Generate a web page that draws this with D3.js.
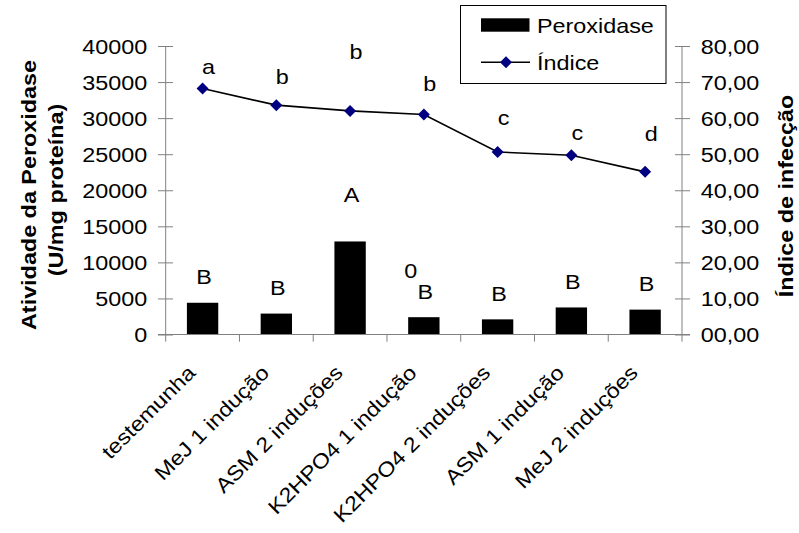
<!DOCTYPE html>
<html>
<head>
<meta charset="utf-8">
<script src="https://cdn.jsdelivr.net/npm/d3@7"></script>
<style>
  html, body { margin: 0; padding: 0; background: #fff; }
  svg { display: block; }
  text { font-family: "Liberation Sans", Arial, Helvetica, sans-serif; fill: #000; }
</style>
</head>
<body>
<svg id="chart" width="799" height="533"></svg>
<script>
// Tratamentos (eixo X)
const categories = [
  "testemunha",
  "MeJ 1 indução",
  "ASM 2 induções",
  "K2HPO4 1 indução",
  "K2HPO4 2 induções",
  "ASM 1 indução",
  "MeJ 2 induções"
];

// Atividade da peroxidase (U/mg proteína) - barras
const peroxidase = [4400, 2900, 12900, 2400, 2100, 3750, 3450];

// Índice de infecção - linha
const indice = [68.2, 63.6, 62.0, 61.0, 50.6, 49.7, 45.1];

// Letras de significância
const peroxidaseLetters = ["B", "B", "A", "B", "B", "B", "B"];
const indiceLetters = ["a", "b", "b", "b", "c", "c", "d"];

// Altura (em unidades de cada eixo) onde cada letra é escrita
const peroxidaseLetterLevel = [7000, 5530, 18330, 4920, 4600, 6310, 6090];
const indiceLetterLevel = [72.1, 69.4, 76.3, 67.6, 58.0, 53.8, 53.7];

// Ticks dos eixos
const leftTicks = [0, 5000, 10000, 15000, 20000, 25000, 30000, 35000, 40000];
const rightTicks = [0, 10, 20, 30, 40, 50, 60, 70, 80];
const rightTickLabels = ["00,00", "10,00", "20,00", "30,00", "40,00", "50,00", "60,00", "70,00", "80,00"];

const FONT = 20.5;   // tamanho do texto
const SX = 1.14;     // largura dos glifos

const svg = d3.select("#chart");

const plot = { left: 165.7, right: 682, top: 46, bottom: 334.5 };

const x = d3.scaleBand().domain(categories).range([plot.left, plot.right]).paddingInner(0).paddingOuter(0);
const yL = d3.scaleLinear().domain([0, 40000]).range([plot.bottom, plot.top]);
const yR = d3.scaleLinear().domain([0, 80]).range([plot.bottom, plot.top]);
const cx = d => x(d) + x.bandwidth() / 2;

// helper: write a text with horizontally widened glyphs
function label(g, str, px, py, opts = {}) {
  const rot = opts.rotate || 0;
  return g.append("text")
    .attr("transform", `translate(${px},${py}) rotate(${rot}) scale(${SX},1)`)
    .attr("text-anchor", opts.anchor || "start")
    .attr("font-size", (opts.size || FONT) + "px")
    .attr("font-weight", opts.weight || "normal")
    .attr("dy", opts.dy || null)
    .text(str);
}

const axisColor = "#808080";

// Barras
svg.append("g").selectAll("rect").data(peroxidase).join("rect")
  .attr("x", (d, i) => cx(categories[i]) - x.bandwidth() * 0.2125)
  .attr("width", x.bandwidth() * 0.425)
  .attr("y", d => yL(d))
  .attr("height", d => yL(0) - yL(d))
  .attr("fill", "#000");

// Eixo esquerdo
const gL = svg.append("g").attr("transform", `translate(${plot.left},0)`)
  .call(d3.axisLeft(yL).tickValues(leftTicks).tickSize(7.7).tickFormat(""));
gL.select(".domain").attr("stroke", axisColor).attr("d", `M0,${plot.top}V${plot.bottom + 7.2}`);
gL.selectAll(".tick line").attr("stroke", axisColor).attr("x1", 7.3).attr("x2", -7.7);
gL.selectAll(".tick").each(function (d) {
  label(d3.select(this), d3.format("d")(d), -18.5, 0, { anchor: "end", dy: "0.35em" });
});

// Eixo direito
const gR = svg.append("g").attr("transform", `translate(${plot.right},0)`)
  .call(d3.axisRight(yR).tickValues(rightTicks).tickSize(8).tickFormat(""));
gR.select(".domain").attr("stroke", axisColor).attr("d", `M0,${plot.top}V${plot.bottom + 7.2}`);
gR.selectAll(".tick line").attr("stroke", axisColor).attr("x1", -7).attr("x2", 8);
gR.selectAll(".tick").each(function (d, i) {
  label(d3.select(this), rightTickLabels[i], 18.7, 0, { anchor: "start", dy: "0.35em" });
});

// Eixo X
const gX = svg.append("g").attr("transform", `translate(0,${plot.bottom})`);
gX.append("line").attr("x1", plot.left - 7.7).attr("x2", plot.right + 8)
  .attr("stroke", axisColor);
gX.selectAll(".cat-tick").data(categories.slice(1)).join("line")
  .attr("class", "cat-tick")
  .attr("x1", d => x(d)).attr("x2", d => x(d))
  .attr("y1", 0).attr("y2", 7.2)
  .attr("stroke", axisColor);
categories.forEach(c => {
  label(gX, c, cx(c) - 6, 39.5, { anchor: "end", rotate: -45 });
});

// Linha do índice
const line = d3.line().x((d, i) => cx(categories[i])).y(d => yR(d));
svg.append("path").datum(indice).attr("d", line)
  .attr("fill", "none").attr("stroke", "#000").attr("stroke-width", 1.6);

const diamond = d3.symbol(d3.symbolSquare, 72);
svg.append("g").selectAll("path").data(indice).join("path")
  .attr("d", diamond)
  .attr("transform", (d, i) => `translate(${cx(categories[i])},${yR(d)}) rotate(45)`)
  .attr("fill", "#000080");

// Letras
const gLet = svg.append("g");
categories.forEach((c, i) => {
  label(gLet, indiceLetters[i], cx(c) + 6, yR(indiceLetterLevel[i]), { anchor: "middle" });
  label(gLet, peroxidaseLetters[i], cx(c) + 1.5, yL(peroxidaseLetterLevel[i]), { anchor: "middle" });
});
label(gLet, "0", cx(categories[3]) - 13, yL(7830), { anchor: "middle" });

// Títulos dos eixos
label(svg, "Atividade da Peroxidase", 36, 195, { anchor: "middle", rotate: -90, weight: "bold" });
label(svg, "(U/mg proteína)", 63, 190, { anchor: "middle", rotate: -90, weight: "bold" });
label(svg, "Índice de infecção", 793, 196, { anchor: "middle", rotate: -90, weight: "bold" });

// Legenda
const lg = svg.append("g");
lg.append("rect").attr("x", 460.5).attr("y", 5.5).attr("width", 205.5).attr("height", 78)
  .attr("fill", "#fff").attr("stroke", "#000").attr("stroke-width", 1);
lg.append("rect").attr("x", 481).attr("y", 18.3).attr("width", 48.5).attr("height", 13.4).attr("fill", "#000");
label(lg, "Peroxidase", 537, 32.5);
lg.append("line").attr("x1", 481).attr("x2", 530).attr("y1", 62.3).attr("y2", 62.3)
  .attr("stroke", "#000").attr("stroke-width", 1.6);
lg.append("path").attr("d", diamond).attr("transform", "translate(506,62.3) rotate(45)").attr("fill", "#000080");
label(lg, "Índice", 537, 69.5);
</script>
</body>
</html>
